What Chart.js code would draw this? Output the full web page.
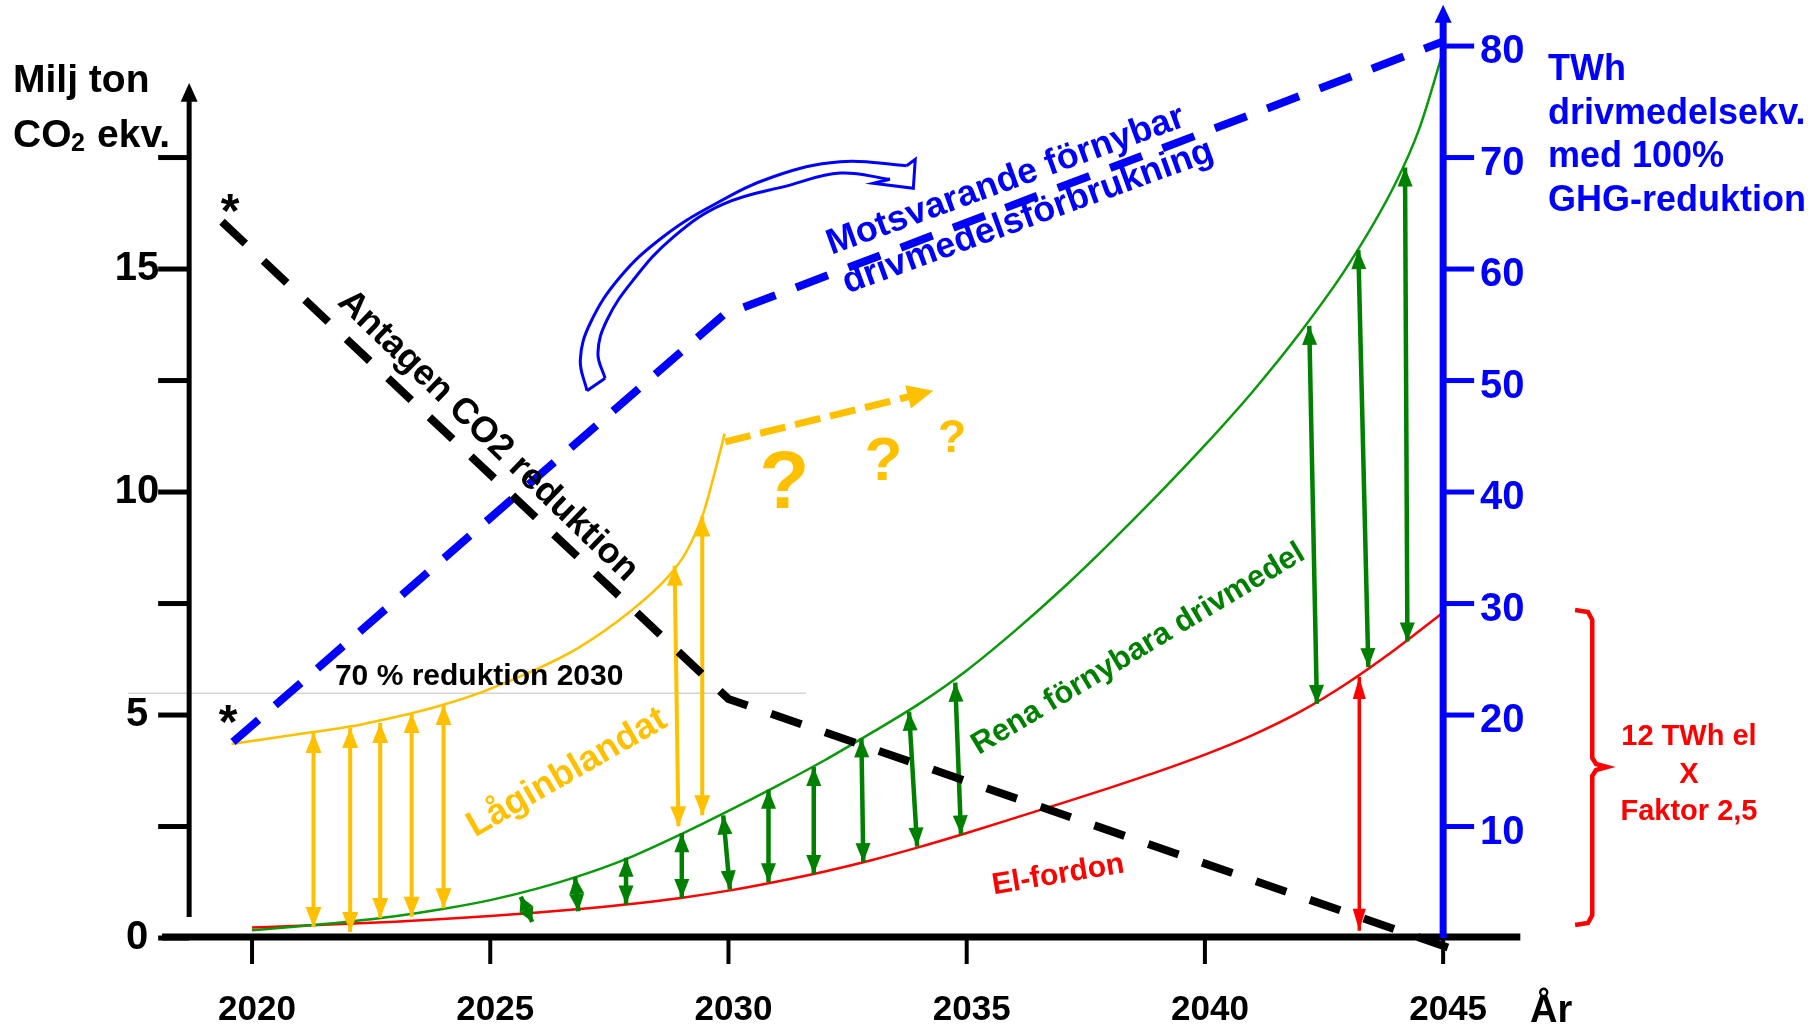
<!DOCTYPE html>
<html>
<head>
<meta charset="utf-8">
<script src="https://cdn.jsdelivr.net/npm/chart.js@4.4.1/dist/chart.umd.min.js"></script>
<style>
  html, body { margin: 0; padding: 0; background: #fff; overflow: hidden; }
  canvas { display: block; }
</style>
</head>
<body>
<canvas id="chart" width="1820" height="1026"></canvas>
<script>
// Axis ticks
const xTicks = [2020, 2025, 2030, 2035, 2040, 2045];
const leftTicks = [0, 2.5, 5, 7.5, 10, 12.5, 15, 17.5];   // Milj ton CO2
const leftLabels = [0, 5, 10, 15];
const rightTicks = [10, 20, 30, 40, 50, 60, 70, 80];      // TWh

// Series, [year, value]; Mt on the left axis, TWh on the right axis
const co2Target = [[2019.37, 16.06], [2030.0, 5.36], [2045.2, -0.25]];
const reductionLevel = [[2017.4, 5.49], [2031.63, 5.49]];
const renewableDemand = [[2019.6, 17.58], [2029.89, 55.87], [2045.0, 80.4]];
const lowBlend = [
  [2019.57, 17.40], [2021.28, 18.47], [2022.06, 18.97], [2022.72, 19.55], [2023.37, 20.18],
  [2024.03, 20.94], [2024.88, 22.15], [2026.02, 24.2], [2026.84, 26.0], [2027.91, 29.2],
  [2028.71, 32.3], [2029.11, 34.6], [2029.48, 38.2], [2029.72, 41.9], [2029.92, 45.24]
];
const lowBlendFuture = [[2029.93, 44.5], [2034.30, 49.09]];
const renewableFuel = [
  [2020, 0.7], [2021, 1.05], [2022, 1.45], [2023, 1.95], [2024, 2.6], [2025, 3.4],
  [2026, 4.45], [2027, 5.75], [2028, 7.35], [2029, 9.3], [2030, 11.4], [2031, 13.6],
  [2032, 15.9], [2033, 18.4], [2034, 21.0], [2035, 24.0], [2036, 27.5], [2037, 31.3],
  [2038, 35.4], [2039, 39.7], [2040, 44.2], [2041, 49.0], [2042, 54.3], [2043, 60.3],
  [2044, 67.7], [2044.5, 72.6], [2045, 79.5]
];
const electric = [
  [2020, 0.95], [2021, 1.1], [2022, 1.27], [2023, 1.47], [2024, 1.7], [2025, 1.97],
  [2026, 2.28], [2027, 2.65], [2028, 3.08], [2029, 3.6], [2030, 4.25], [2031, 5.05],
  [2032, 5.95], [2033, 6.98], [2034, 8.15], [2035, 9.42], [2036, 10.75], [2037, 12.1],
  [2038, 13.47], [2039, 14.9], [2040, 16.45], [2041, 18.2], [2042, 20.3], [2043, 22.9],
  [2044, 25.9], [2045, 29.2]
];

// Double arrows, [yearTop, top, yearBottom, bottom] in TWh
const yellowArrows = [
  [2021.29, 18.39, 2021.29, 0.99], [2022.06, 18.83, 2022.06, 0.54], [2022.69, 19.28, 2022.69, 1.79],
  [2023.35, 20.18, 2023.35, 1.91], [2024.02, 20.90, 2024.02, 2.66],
  [2028.87, 33.4, 2028.95, 10.02], [2029.45, 37.8, 2029.45, 11.01]
];
const greenArrows = [
  [2025.64, 3.7, 2025.88, 1.45], [2026.78, 5.50, 2026.85, 2.4], [2027.85, 7.2, 2027.85, 3.0],
  [2029.02, 9.4, 2029.02, 3.6], [2029.89, 11.0, 2030.03, 4.35], [2030.84, 13.3, 2030.84, 5.0],
  [2031.79, 15.34, 2031.79, 5.75], [2032.79, 17.9, 2032.83, 6.8], [2033.79, 20.3, 2033.96, 8.2],
  [2034.76, 22.9, 2034.88, 9.3], [2042.19, 54.9, 2042.35, 21.0], [2043.22, 61.7, 2043.43, 24.3],
  [2044.20, 69.1, 2044.25, 26.6]
];
const redArrows = [[2043.24, 23.4, 2043.24, 0.65]];

// Red brace and hollow curved arrow, in TWh
const brace = [
  [2047.77, 29.42], [2048.04, 29.24], [2048.13, 28.52], [2048.13, 16.14], [2048.21, 15.61],
  [2048.44, 15.34], [2048.21, 15.07], [2048.13, 14.53], [2048.13, 2.06], [2048.04, 1.35], [2047.77, 1.17]
];
const curvedOuter = [
  [2027.03, 49.09], [2026.89, 51.84], [2027.10, 55.16], [2027.73, 59.31], [2028.63, 62.90],
  [2029.68, 65.74], [2030.94, 68.28], [2032.34, 69.62], [2033.74, 69.27]
];
const curvedInner = [
  [2033.39, 68.05], [2032.34, 68.61], [2031.29, 67.53], [2029.89, 65.83], [2028.84, 62.87],
  [2028.00, 59.01], [2027.45, 55.43], [2027.26, 52.47], [2027.41, 50.20]
];
const curvedHead = [[2033.74, 69.27], [2033.92, 69.84], [2033.88, 67.24], [2033.04, 67.69], [2033.39, 68.05]];
const curvedTail = [[2027.41, 50.20], [2027.03, 49.09]];

const FONT = "'Liberation Sans', Arial, sans-serif";
const YELLOW = '#FFC000', GREEN = '#008000', RED = '#FF0000', BLUE = '#0000FF';

// Text on the plot, placed in data coordinates (TWh)
const notes = [
  { t: 'Antagen CO2 reduktion', x: 2024.95, y: 45.02, rot: 44, c: '#000', s: 36 },
  { t: 'Motsvarande förnybar', x: 2035.82, y: 67.91, rot: -20, c: BLUE, s: 36 },
  { t: 'drivmedelsförbrukning', x: 2036.29, y: 64.66, rot: -20, c: BLUE, s: 36 },
  { t: 'Låginblandat', x: 2026.61, y: 14.80, rot: -30, c: YELLOW, s: 36 },
  { t: 'Rena förnybara drivmedel', x: 2038.6, y: 25.9, rot: -31, c: GREEN, s: 31 },
  { t: 'El-fordon', x: 2036.92, y: 5.65, rot: -9.5, c: RED, s: 30 },
  { t: '70 % reduktion 2030', x: 2021.74, y: 22.69, c: '#000', s: 30, align: 'left', base: 'alphabetic' },
  { t: '?', x: 2031.17, y: 38.57, c: YELLOW, s: 82, base: 'alphabetic' },
  { t: '?', x: 2033.25, y: 41.08, c: YELLOW, s: 62, base: 'alphabetic' },
  { t: '?', x: 2034.69, y: 43.59, c: YELLOW, s: 46, base: 'alphabetic' },
  { t: '*', x: 2019.54, y: 63.80, c: '#000', s: 48, base: 'alphabetic' },
  { t: '*', x: 2019.50, y: 17.94, c: '#000', s: 48, base: 'alphabetic' },
  { t: '12 TWh el', x: 2050.16, y: 17.31, c: RED, s: 29, base: 'alphabetic' },
  { t: 'X', x: 2050.16, y: 13.90, c: RED, s: 29, base: 'alphabetic' },
  { t: 'Faktor 2,5', x: 2050.16, y: 10.58, c: RED, s: 29, base: 'alphabetic' }
];

const pts = arr => arr.map(([x, y]) => ({ x, y }));

function line(data, color, width, extra) {
  return Object.assign({
    data: pts(data), borderColor: color, backgroundColor: color, borderWidth: width,
    fill: false, pointRadius: 0, tension: 0, yAxisID: 'y', clip: false, borderCapStyle: 'butt'
  }, extra || {});
}

function arrows(list, color, width, headL, headW) {
  return list.map(([x1, y1, x2, y2]) =>
    line([[x1, y1], [x2, y2]], color, width, { heads: 'both', headL, headW }));
}

// first dataset ends up on top
const datasets = [
  line(co2Target, '#000', 8, { yAxisID: 'yL', borderDash: [32, 25] }),
  line(renewableDemand, BLUE, 8, { borderDash: [34, 22] }),
  line(lowBlendFuture, YELLOW, 7, { borderDash: [26, 10], heads: 'end', headL: 26, headW: 24 }),
  ...arrows(redArrows, RED, 3.5, 22, 13),
  ...arrows(greenArrows, GREEN, 4.5, 19, 15),
  ...arrows(yellowArrows, YELLOW, 4, 20, 16),
  line(renewableFuel, '#0A990A', 2.5, { cubicInterpolationMode: 'monotone' }),
  line(electric, RED, 2.5, { cubicInterpolationMode: 'monotone' }),
  line(lowBlend, YELLOW, 2.5, { cubicInterpolationMode: 'monotone' }),
  line(reductionLevel, '#d4d4d4', 1.5, { yAxisID: 'yL' }),
  line(brace, RED, 4.5),
  line(curvedOuter, BLUE, 3, { tension: 0.4 }),
  line(curvedInner, BLUE, 3, { tension: 0.4 }),
  line(curvedHead, BLUE, 3),
  line(curvedTail, BLUE, 3)
];

function head(ctx, from, to, L, W) {
  const a = Math.atan2(to.y - from.y, to.x - from.x);
  ctx.save();
  ctx.translate(to.x, to.y);
  ctx.rotate(a);
  ctx.beginPath();
  ctx.moveTo(0, 0);
  ctx.lineTo(-L, -W / 2);
  ctx.lineTo(-L, W / 2);
  ctx.closePath();
  ctx.fill();
  ctx.restore();
}

function text(ctx, s, px, py, o) {
  ctx.save();
  ctx.translate(px, py);
  if (o.rot) ctx.rotate(o.rot * Math.PI / 180);
  ctx.font = `bold ${o.s}px ${FONT}`;
  ctx.fillStyle = o.c;
  ctx.textAlign = o.align || 'center';
  ctx.textBaseline = o.base || 'middle';
  ctx.fillText(s, 0, 0);
  ctx.restore();
}

const decor = {
  id: 'decor',
  afterDatasetsDraw(chart) {
    const ctx = chart.ctx;
    const { x, y, yL } = chart.scales;
    const X = v => x.getPixelForValue(v), Y = v => y.getPixelForValue(v), YL = v => yL.getPixelForValue(v);

    // arrowheads; short arrows get heads that meet in the middle
    chart.data.datasets.forEach((ds, i) => {
      if (!ds.heads) return;
      const p = chart.getDatasetMeta(i).data;
      const a = p[0], b = p[p.length - 1];
      const len = Math.hypot(b.x - a.x, b.y - a.y);
      const L = ds.heads === 'both' ? Math.min(ds.headL, len / 2) : ds.headL;
      ctx.fillStyle = ds.borderColor;
      head(ctx, a, b, L, ds.headW);
      if (ds.heads === 'both') head(ctx, b, a, L, ds.headW);
    });

    ctx.save();
    ctx.lineCap = 'butt';

    // x axis
    const y0 = Y(0);
    ctx.strokeStyle = '#000';
    ctx.lineWidth = 7;
    ctx.beginPath(); ctx.moveTo(X(2018.11), y0 - 1); ctx.lineTo(X(2046.62), y0 - 1); ctx.stroke();
    ctx.lineWidth = 4;
    xTicks.forEach(t => {
      ctx.beginPath(); ctx.moveTo(X(t), y0); ctx.lineTo(X(t), y0 + 26); ctx.stroke();
      text(ctx, String(t), X(t) + 5, 1020, { s: 35, c: '#000', base: 'alphabetic' });
    });
    text(ctx, 'År', 1530, 1022, { s: 38, c: '#000', align: 'left', base: 'alphabetic' });

    // left axis (Mt)
    const lx = X(2018.68);
    ctx.lineWidth = 5;
    ctx.beginPath(); ctx.moveTo(lx, YL(0.47)); ctx.lineTo(lx, YL(18.8)); ctx.stroke();
    ctx.fillStyle = '#000';
    ctx.beginPath(); ctx.moveTo(lx, YL(19.17)); ctx.lineTo(lx - 8.5, YL(18.75)); ctx.lineTo(lx + 8.5, YL(18.75)); ctx.closePath(); ctx.fill();
    leftTicks.forEach(t => {
      ctx.beginPath(); ctx.moveTo(lx - 31, YL(t)); ctx.lineTo(lx, YL(t)); ctx.stroke();
    });
    leftLabels.forEach(t => text(ctx, String(t), 137, YL(t), { s: 40, c: '#000' }));

    // right axis (TWh)
    const rx = X(2045);
    ctx.strokeStyle = BLUE;
    ctx.fillStyle = BLUE;
    ctx.lineWidth = 7;
    ctx.beginPath(); ctx.moveTo(rx, y0); ctx.lineTo(rx, Y(82.2)); ctx.stroke();
    ctx.beginPath(); ctx.moveTo(rx, Y(83.7)); ctx.lineTo(rx - 8.5, Y(82.1)); ctx.lineTo(rx + 8.5, Y(82.1)); ctx.closePath(); ctx.fill();
    ctx.lineWidth = 5;
    rightTicks.forEach(t => {
      ctx.beginPath(); ctx.moveTo(rx, Y(t)); ctx.lineTo(rx + 31, Y(t)); ctx.stroke();
      text(ctx, String(t), 1480, Y(t) + 6, { s: 40, c: BLUE, align: 'left' });
    });
    ctx.restore();

    // axis titles
    text(ctx, 'Milj ton', 13, 92, { s: 39, c: '#000', align: 'left', base: 'alphabetic' });
    text(ctx, 'CO', 13, 147, { s: 39, c: '#000', align: 'left', base: 'alphabetic' });
    text(ctx, '2', 71, 151, { s: 25, c: '#000', align: 'left', base: 'alphabetic' });
    text(ctx, 'ekv.', 97, 147, { s: 39, c: '#000', align: 'left', base: 'alphabetic' });
    ['TWh', 'drivmedelsekv.', 'med 100%', 'GHG-reduktion'].forEach((s, i) =>
      text(ctx, s, 1548, 80 + i * 43.5, { s: 36, c: BLUE, align: 'left', base: 'alphabetic' }));

    // plot notes
    notes.forEach(n => text(ctx, n.t, X(n.x), Y(n.y), n));
  }
};

new Chart(document.getElementById('chart').getContext('2d'), {
  type: 'line',
  data: { datasets },
  options: {
    responsive: false,
    animation: false,
    devicePixelRatio: 1,
    events: [],
    layout: { padding: 0 },
    elements: { point: { radius: 0 } },
    plugins: { legend: { display: false }, tooltip: { enabled: false } },
    scales: {
      x: { type: 'linear', min: 2014.71, max: 2052.91, display: false },
      y: { type: 'linear', min: -7.89, max: 84.13, display: false },
      yL: { type: 'linear', min: -1.9725, max: 21.0325, display: false }
    }
  },
  plugins: [decor]
});
</script>
</body>
</html>
